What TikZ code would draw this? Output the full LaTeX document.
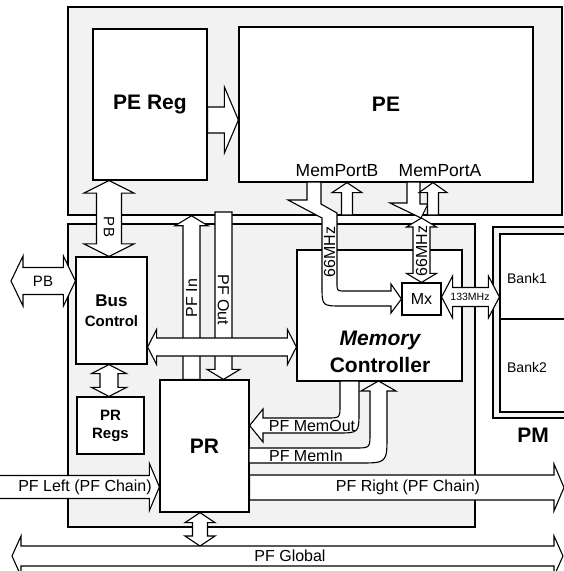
\documentclass[tikz,border=0pt]{standalone}
\usepackage{fontspec}
\setmainfont{Liberation Sans}
\usetikzlibrary{calc}

% block arrows: tail, tip, shaft half width, head half width, head length
\newcommand{\fatone}[5]{%
    \coordinate (fa-s) at (#1);
    \coordinate (fa-e) at (#2);
    \coordinate (fa-b) at ($(fa-e)!#5pt!(fa-s)$);
    \path[fatarrow]
        ($(fa-s)!#3pt!90:(fa-e)$) -- ($(fa-b)!#3pt!-90:(fa-s)$)
        -- ($(fa-b)!#4pt!-90:(fa-s)$) -- (fa-e)
        -- ($(fa-b)!#4pt!90:(fa-s)$) -- ($(fa-b)!#3pt!90:(fa-s)$)
        -- ($(fa-s)!#3pt!-90:(fa-e)$) -- cycle;
}
\newcommand{\fattwo}[5]{%
    \coordinate (fa-s) at (#1);
    \coordinate (fa-e) at (#2);
    \coordinate (fa-a) at ($(fa-s)!#5pt!(fa-e)$);
    \coordinate (fa-b) at ($(fa-e)!#5pt!(fa-s)$);
    \path[fatarrow]
        (fa-s) -- ($(fa-a)!#4pt!90:(fa-e)$) -- ($(fa-a)!#3pt!90:(fa-e)$)
        -- ($(fa-b)!#3pt!-90:(fa-s)$) -- ($(fa-b)!#4pt!-90:(fa-s)$) -- (fa-e)
        -- ($(fa-b)!#4pt!90:(fa-s)$) -- ($(fa-b)!#3pt!90:(fa-s)$)
        -- ($(fa-a)!#3pt!-90:(fa-e)$) -- ($(fa-a)!#4pt!-90:(fa-e)$) -- cycle;
}

\begin{document}
\begin{tikzpicture}[x=1pt,y=-1pt]
    \tikzset{
        panel/.style={draw,line width=1.5pt,fill=black!5,inner sep=0pt},
        box/.style={draw,line width=1.2pt,fill=white,inner sep=0pt,align=center},
        fatarrow/.style={draw,line width=1.1pt,fill=white,line join=miter},
        lbl/.style={inner sep=0pt,font=\fontsize{16}{18}\selectfont},
        big/.style={inner sep=0pt,align=center,font=\fontsize{21}{27}\selectfont\bfseries}
    }
    \useasboundingbox (0,0) rectangle (564,571);

    % panels
    \node[panel,minimum width=494,minimum height=208] (pepanel) at (315,111) {};
    \node[panel,minimum width=407,minimum height=303] (prpanel) at (271.5,375.5) {};
    \node[panel,minimum width=82,minimum height=191] (pmpanel) at (534,322.5) {};

    % blocks
    \node[box,big,minimum width=114,minimum height=151] (pereg) at (150,104.5) {PE Reg};
    \node[box,big,minimum width=294,minimum height=155] (pe) at (386,104.5) {PE};
    \node[box,minimum width=71,minimum height=107,
          font=\fontsize{15}{20}\selectfont\bfseries] (busctl) at (111.5,310.5)
        {{\fontsize{17}{20}\selectfont Bus}\\Control};
    \node[box,minimum width=67,minimum height=57,
          font=\fontsize{15}{18}\selectfont\bfseries] (prregs) at (110.5,425.5) {PR\\Regs};
    \node[box,big,minimum width=89,minimum height=132] (pr) at (204.5,446) {PR};
    \node[box,minimum width=165,minimum height=131] (mc) at (379.5,315.5) {};
    \node[box,lbl,minimum width=39,minimum height=32] (mx) at (421.5,299) {Mx};
    \node[box,minimum width=66,minimum height=85] (bank1) at (533,276.5) {};
    \node[box,minimum width=66,minimum height=93] (bank2) at (533,365.5) {};

    \node[big] (mc-txt) at (380,352) {{\itshape Memory}\\Controller};
    \node[inner sep=0pt,font=\fontsize{14}{16}\selectfont] (bank1-txt) at (527,278) {Bank1};
    \node[inner sep=0pt,font=\fontsize{14}{16}\selectfont] (bank2-txt) at (527,367) {Bank2};
    \node[big] (pm-txt) at (533,435) {PM};
    \node[lbl,font=\fontsize{17.5}{20}\selectfont] (portb-txt) at (337,171) {MemPortB};
    \node[lbl,font=\fontsize{17.5}{20}\selectfont] (porta-txt) at (440,171) {MemPortA};

    % block arrows
    \fatone{pereg.east |- 0,120}{pe.west |- 0,120}{13}{33}{14}
    \fattwo{pereg.south -| 109,0}{busctl.north -| 109,0}{12.5}{25}{12.5}
    \fattwo{busctl.west |- 0,281}{11,281}{13.5}{25}{12}
    \fatone{pr.north -| 191.5,0}{pepanel.south -| 191.5,0}{8.5}{16.5}{10}
    \fatone{223.5,212}{pr.north -| 223.5,0}{8.5}{16.5}{10}
    \fattwo{busctl.east |- 0,347}{mc.west |- 0,347}{9}{17.5}{9}
    \fattwo{busctl.south -| 109,0}{prregs.north -| 109,0}{9}{17.5}{9}
    \fattwo{pr.south -| 200,0}{200,546}{7.5}{15}{10}
    \fattwo{12,556}{563,556}{10}{20}{9}
    \fatone{-2,487}{pr.west |- 0,487}{11.5}{23.5}{10}
    \fatone{pr.east |- 0,487.5}{564,487.5}{12.5}{23.5}{10}
    \fattwo{mx.east |- 0,297}{bank1.west |- 0,297}{9.5}{21}{11}

    % memory ports
    \path[fatarrow] (307,182) -- (307,200) -- (288,200) -- (322,218) -- (322,286)
        .. controls (322,306) .. (342,306) -- (391,306) -- (391,313) -- (mx.west)
        -- (391,284) -- (391,291) -- (345,291) .. controls (337,291) .. (337,283)
        -- (337,213) -- (321,204) -- (321,182) -- cycle;
    \path[fatarrow] (407,182) -- (407,203) -- (390,203) -- (421,218) -- (428,204)
        -- (420,204) -- (420,182) -- cycle;
    \fatone{347,215}{pe.south -| 347,0}{5.5}{15}{10}
    \fatone{433,215}{pe.south -| 433,0}{5.5}{14}{10}
    \fattwo{421.5,218}{mx.north}{8.5}{15}{9}

    % PF MemOut / PF MemIn
    \path[fatarrow] (340,381) -- (340,405) .. controls (340,418) .. (327,418)
        -- (263,418) -- (263,409) -- (pr.east |- 0,425.5) -- (263,442) -- (263,433)
        -- (337,433) .. controls (359,433) .. (359,411) -- (359,381) -- cycle;
    \path[fatarrow] (249,448) -- (355,448) .. controls (370,448) .. (370,433)
        -- (370,391) -- (361,391) -- (378.5,381) -- (396,391) -- (387,391)
        -- (387,435) .. controls (387,463) .. (359,463) -- (249,463) -- cycle;

    % arrow labels
    \node[lbl,rotate=-90,font=\fontsize{15}{17}\selectfont] (pb-v-txt) at (109,227) {PB};
    \node[lbl,font=\fontsize{15}{17}\selectfont] (pb-h-txt) at (43,281) {PB};
    \node[lbl,rotate=90] (pfin-txt) at (191.5,298) {PF In};
    \node[lbl,rotate=-90] (pfout-txt) at (223.5,300) {PF Out};
    \node[lbl,rotate=90] (mhzb-txt) at (329.5,252) {66MHz};
    \node[lbl,rotate=90] (mhza-txt) at (421.5,251) {66MHz};
    \node[lbl,font=\fontsize{10.5}{12}\selectfont] (mhzpm-txt) at (470,297) {133MHz};
    \node[lbl] (memout-txt) at (312,426) {PF MemOut};
    \node[lbl] (memin-txt) at (306,456) {PF MemIn};
    \node[lbl] (pfleft-txt) at (85,487) {PF Left (PF Chain)};
    \node[lbl] (pfright-txt) at (408,487.5) {PF Right (PF Chain)};
    \node[lbl] (pfglobal-txt) at (290,556) {PF Global};
\end{tikzpicture}
\end{document}
